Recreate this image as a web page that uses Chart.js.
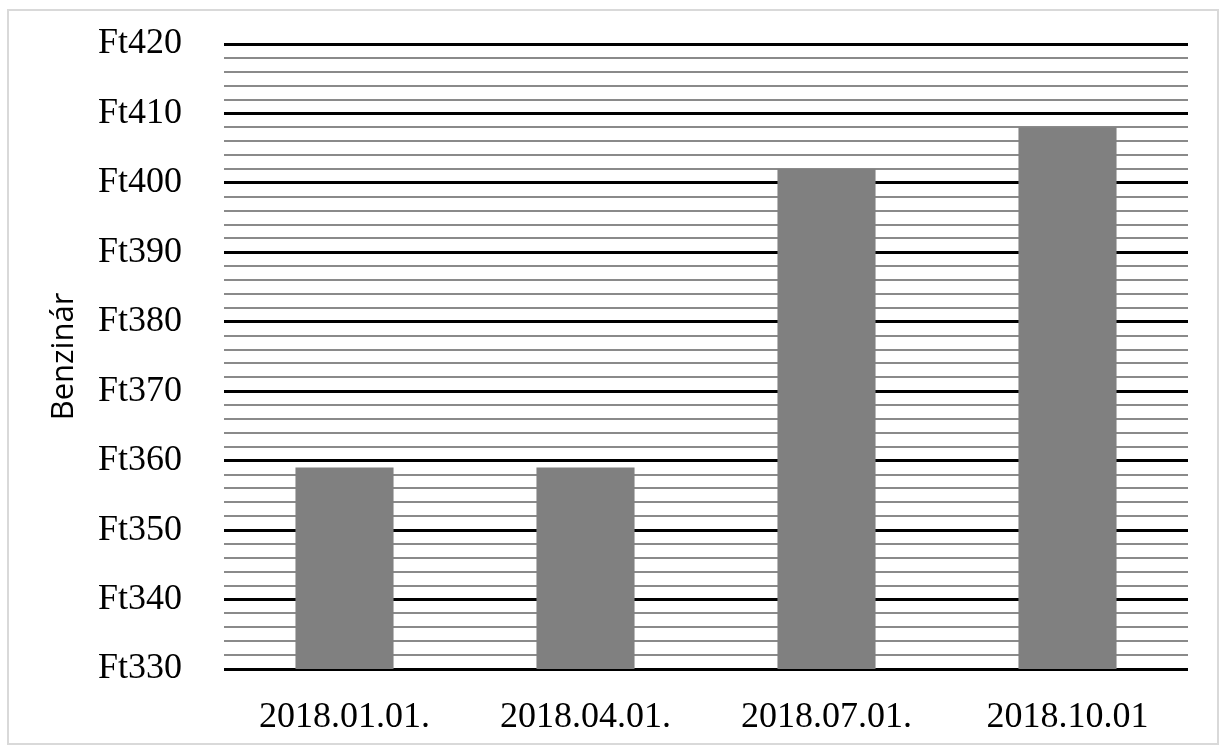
<!DOCTYPE html>
<html>
<head>
<meta charset="utf-8">
<script src="https://cdn.jsdelivr.net/npm/chart.js@4/dist/chart.umd.min.js"></script>
<style>
html,body{margin:0;padding:0;background:#fff;}
#wrap{position:relative;width:1224px;height:745px;}
</style>
</head>
<body>
<div id="wrap"><canvas id="c" width="1224" height="745"></canvas></div>
<script>
const categories = ["2018.01.01.", "2018.04.01.", "2018.07.01.", "2018.10.01"];
const prices = [359, 359, 402, 408];
const yMin = 330, yMax = 420, yStep = 2, yLabelStep = 10;
const yTitle = "Benzinár";

const borderPlugin = {
  id: 'outerBorder',
  beforeDraw(chart) {
    const ctx = chart.ctx;
    ctx.save();
    ctx.fillStyle = '#fff';
    ctx.fillRect(0, 0, chart.width, chart.height);
    ctx.strokeStyle = '#d9d9d9';
    ctx.lineWidth = 2;
    ctx.strokeRect(8, 10, 1210, 734);
    ctx.restore();
  }
};

new Chart(document.getElementById('c'), {
  type: 'bar',
  data: {
    labels: categories,
    datasets: [{
      data: prices,
      backgroundColor: '#808080',
      borderWidth: 0,
      categoryPercentage: 1,
      barPercentage: 0.407
    }]
  },
  options: {
    responsive: false,
    animation: false,
    devicePixelRatio: 1,
    layout: { padding: { top: 44, right: 36, bottom: 0, left: 0 } },
    plugins: { legend: { display: false }, tooltip: { enabled: false } },
    scales: {
      x: {
        grid: { display: false },
        border: { display: false },
        ticks: {
          color: '#000',
          font: { family: 'Liberation Serif', size: 36 },
          padding: 19,
          maxRotation: 0
        },
        afterFit(s) { s.height = 76; s.paddingLeft = 0; s.paddingRight = 0; }
      },
      y: {
        min: yMin, max: yMax,
        border: { display: false },
        grid: {
          drawTicks: false,
          color: c => (c.tick && c.tick.value % yLabelStep === 0) ? '#000' : '#8a8a8a',
          lineWidth: c => (c.tick && c.tick.value % yLabelStep === 0) ? 3 : 2
        },
        ticks: {
          stepSize: yStep,
          autoSkip: false,
          color: '#000',
          padding: 42,
          font: { family: 'Liberation Serif', size: 36 },
          callback: v => (v % yLabelStep === 0) ? 'Ft' + v : ''
        },
        title: {
          display: true,
          text: yTitle,
          color: '#000',
          font: { family: 'Open Sans', size: 31 },
          padding: { top: 46, bottom: 0 }
        },
        afterFit(s) { s.width = 224; s.paddingTop = 0; s.paddingBottom = 0; }
      }
    }
  },
  plugins: [borderPlugin]
});
</script>
</body>
</html>
